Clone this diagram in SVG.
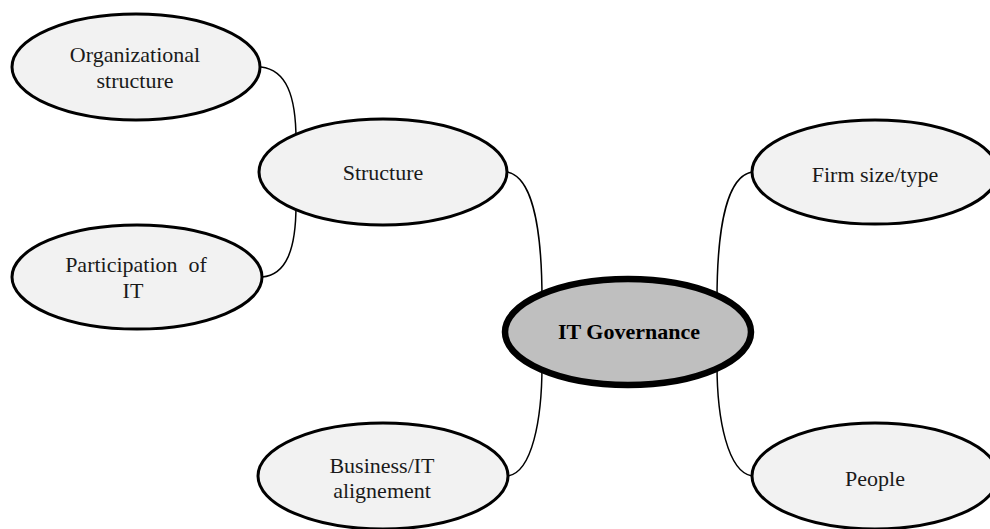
<svg xmlns="http://www.w3.org/2000/svg" width="990" height="529" viewBox="0 0 990 529">
  <style>
    .node { fill: #f2f2f2; stroke: #000; stroke-width: 3; }
    .hub { fill: #bfbfbf; stroke: #000; stroke-width: 6.5; }
    .lbl { font-family: "Liberation Serif", "Times New Roman", serif; font-size: 22px; fill: #1a1a1a; text-anchor: middle; }
    .hub-lbl { font-weight: bold; fill: #000; }
    .link { fill: none; stroke: #000; stroke-width: 1.5; }
  </style>
  <rect width="990" height="529" fill="#fff"/>

  <g id="connectors">
    <path class="link" d="M 261 67 C 286 70 296 95 296 140"/>
    <path class="link" d="M 296 205 C 296 250 286 275 262 277"/>
    <path class="link" d="M 507 172 C 530 176 542 220 542 300"/>
    <path class="link" d="M 508 476 C 532 472 542 420 542 365"/>
    <path class="link" d="M 752 172 C 729 176 717 220 717 300"/>
    <path class="link" d="M 752 476 C 728 472 717 420 717 365"/>
  </g>

  <g id="org-structure">
    <ellipse class="node" cx="136" cy="67" rx="124" ry="53"/>
    <text class="lbl" x="135" y="62">Organizational</text>
    <text class="lbl" x="135" y="88">structure</text>
  </g>

  <g id="structure">
    <ellipse class="node" cx="383" cy="172" rx="124" ry="53"/>
    <text class="lbl" x="383" y="180">Structure</text>
  </g>

  <g id="participation">
    <ellipse class="node" cx="137" cy="277" rx="125" ry="52"/>
    <text class="lbl" x="136" y="272" style="white-space:pre">Participation  of</text>
    <text class="lbl" x="133" y="298">IT</text>
  </g>

  <g id="business-it">
    <ellipse class="node" cx="383" cy="476" rx="125" ry="53"/>
    <text class="lbl" x="382" y="473">Business/IT</text>
    <text class="lbl" x="382" y="498">alignement</text>
  </g>

  <g id="it-governance">
    <ellipse class="hub" cx="628" cy="332" rx="123" ry="53"/>
    <text class="lbl hub-lbl" x="629" y="339">IT Governance</text>
  </g>

  <g id="firm-size">
    <ellipse class="node" cx="875" cy="172" rx="123" ry="52"/>
    <text class="lbl" x="875" y="182">Firm size/type</text>
  </g>

  <g id="people">
    <ellipse class="node" cx="875" cy="476" rx="123" ry="53"/>
    <text class="lbl" x="875" y="486">People</text>
  </g>
</svg>
